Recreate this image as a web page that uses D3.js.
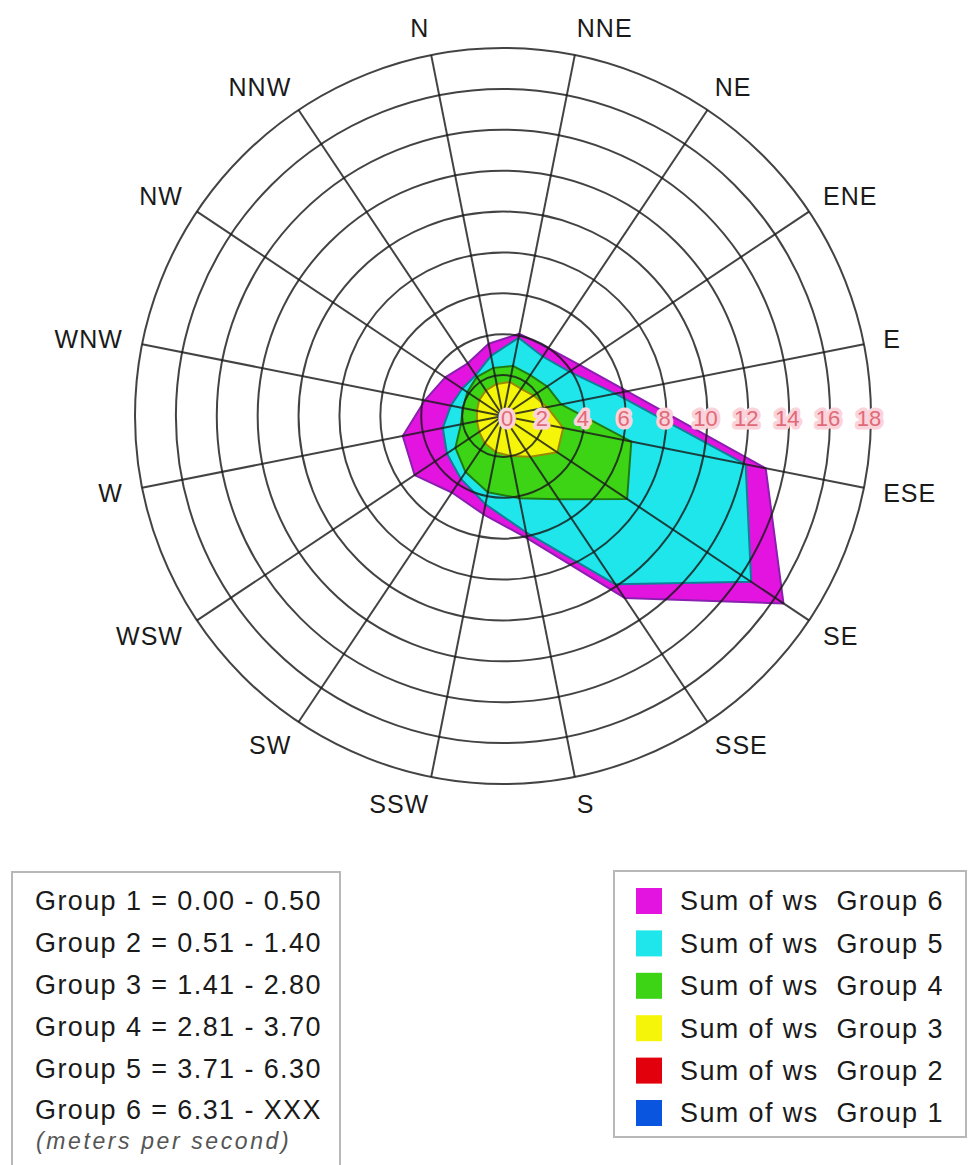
<!DOCTYPE html>
<html>
<head>
<meta charset="utf-8">
<script src="https://cdn.jsdelivr.net/npm/d3@7"></script>
<style>
  html, body { margin: 0; padding: 0; background: #fff; }
  svg { display: block; }
  text { font-family: "Liberation Sans", Arial, sans-serif; }
</style>
</head>
<body>
<svg id="chart" width="969" height="1165"></svg>
<script>
// ---- data ----
const directions = ["N","NNE","NE","ENE","E","ESE","SE","SSE","S","SSW","SW","WSW","W","WNW","NW","NNW"];
const ringTicks = [0,2,4,6,8,10,12,14,16,18];
const group6 = [3.6, 4.1, 4.0, 4.5, 6.2, 13.1, 16.5, 10.7, 6.1, 4.9, 4.5, 5.2, 5.0, 3.9, 3.4, 3.1];
const group5 = [3.0, 3.9, 3.5, 3.9, 5.6, 12.1, 14.6, 9.9, 5.8, 4.4, 3.7, 3.3, 3.0, 2.6, 2.4, 2.4];
const group4 = [2.4, 2.5, 2.4, 2.6, 2.9, 6.4, 7.3, 4.9, 4.1, 3.8, 3.3, 2.8, 2.1, 2.0, 2.1, 2.3];
const group3 = [1.6, 1.7, 1.6, 1.8, 2.2, 3.0, 3.2, 2.4, 2.0, 1.8, 1.6, 1.4, 1.3, 1.3, 1.4, 1.5];
const group2 = [0, 0, 0, 0, 0, 0, 0, 0, 0, 0, 0, 0, 0, 0, 0, 0];
const group1 = [0, 0, 0, 0, 0, 0, 0, 0, 0, 0, 0, 0, 0, 0, 0, 0];
const seriesNames = ["Sum of ws  Group 6","Sum of ws  Group 5","Sum of ws  Group 4","Sum of ws  Group 3","Sum of ws  Group 2","Sum of ws  Group 1"];
const seriesColors = ["#e314e0","#1ee6ea","#3ed416","#f5f50a","#e3000d","#0a55e0"];
const seriesStrokes = ["#8a1fb0","#0e7f96","#1f7a12","#9a8a00","#8a0000","#002f8a"];
const rangeLabels = ["Group 1 = 0.00 - 0.50","Group 2 = 0.51 - 1.40","Group 3 = 1.41 - 2.80","Group 4 = 2.81 - 3.70","Group 5 = 3.71 - 6.30","Group 6 = 6.31 - XXX"];
const unitLabel = "(meters per second)";

const seriesValues = [group6, group5, group4, group3, group2, group1];

// ---- layout ----
const svg = d3.select("#chart");
const cx = 503, cy = 416, R = 368;
const n = directions.length;
const angle = d3.scaleLinear().domain([0, n]).range([-Math.PI / n, 2 * Math.PI - Math.PI / n]);
const rScale = d3.scaleLinear().domain([0, 18]).range([0, R]);

const g = svg.append("g").attr("transform", `translate(${cx},${cy})`);

// filled series (largest first)
const radial = d3.lineRadial()
  .angle((d, i) => angle(i))
  .radius(d => rScale(d))
  .curve(d3.curveLinearClosed);

g.selectAll("path.series")
  .data(seriesValues)
  .join("path")
  .attr("class", "series")
  .attr("d", d => radial(d))
  .attr("fill", (d, i) => seriesColors[i])
  .attr("stroke", (d, i) => seriesStrokes[i])
  .attr("stroke-width", 2)
  .attr("stroke-linejoin", "round");

// grid rings
g.selectAll("circle.ring")
  .data(ringTicks.filter(t => t > 0))
  .join("circle")
  .attr("class", "ring")
  .attr("r", d => rScale(d))
  .attr("fill", "none")
  .attr("stroke", "#1a1a1a")
  .attr("stroke-opacity", 0.82)
  .attr("stroke-width", 2);

// spokes
g.selectAll("line.spoke")
  .data(directions)
  .join("line")
  .attr("class", "spoke")
  .attr("x1", 0).attr("y1", 0)
  .attr("x2", (d, i) => Math.sin(angle(i)) * R)
  .attr("y2", (d, i) => -Math.cos(angle(i)) * R)
  .attr("stroke", "#1a1a1a")
  .attr("stroke-opacity", 0.82)
  .attr("stroke-width", 2);

// ring value labels along the horizontal axis
g.selectAll("text.tick")
  .data(ringTicks)
  .join("text")
  .attr("class", "tick")
  .attr("x", d => rScale(d) + (d === 0 ? 4 : -2))
  .attr("y", 2)
  .attr("dy", "0.35em")
  .attr("text-anchor", "middle")
  .attr("font-size", 22)
  .attr("fill", "#e06a78")
  .attr("stroke", "#fbd3da")
  .attr("stroke-width", 7)
  .attr("stroke-linejoin", "round")
  .attr("paint-order", "stroke")
  .text(d => d);

// direction labels
g.selectAll("text.dir")
  .data(directions)
  .join("text")
  .attr("class", "dir")
  .each(function(d, i) {
    const a = angle(i);
    const s = Math.sin(a), c = Math.cos(a);
    const rr = R + 10;
    const extra = 10 * Math.pow(Math.abs(s), 3) * Math.sign(s);
    d3.select(this)
      .attr("x", s * rr + extra)
      .attr("y", -c * rr - c * 18)
      .attr("text-anchor", s >= 0 ? "start" : "end");
  })
  .attr("dy", "0.36em")
  .attr("font-size", 25)
  .attr("letter-spacing", 1)
  .attr("fill", "#1a1a1a")
  .text(d => d);

// ---- left legend (ranges) ----
const legL = svg.append("g");
legL.append("rect")
  .attr("x", 12).attr("y", 872).attr("width", 328).attr("height", 300)
  .attr("fill", "#fff").attr("stroke", "#b8b8b8").attr("stroke-width", 2);
const leftY = d3.scaleLinear().domain([0, 5]).range([901, 1110]);
legL.selectAll("text.range")
  .data(rangeLabels)
  .join("text")
  .attr("class", "range")
  .attr("x", 35)
  .attr("y", (d, i) => leftY(i))
  .attr("dy", "0.35em")
  .attr("font-size", 27)
  .attr("letter-spacing", 1.4)
  .attr("fill", "#1a1a1a")
  .text(d => d);
legL.append("text")
  .attr("x", 36)
  .attr("y", 1141)
  .attr("dy", "0.35em")
  .attr("font-size", 23)
  .attr("font-style", "italic")
  .attr("letter-spacing", 2.6)
  .attr("fill", "#555")
  .text(unitLabel);

// ---- right legend (series) ----
const legR = svg.append("g");
legR.append("rect")
  .attr("x", 614).attr("y", 871).attr("width", 352).attr("height", 266)
  .attr("fill", "#fff").attr("stroke", "#b8b8b8").attr("stroke-width", 2);
const rightY = d3.scaleLinear().domain([0, 5]).range([901, 1113]);
const items = legR.selectAll("g.item")
  .data(seriesNames)
  .join("g")
  .attr("class", "item")
  .attr("transform", (d, i) => `translate(0,${rightY(i)})`);
items.append("rect")
  .attr("x", 636).attr("y", -13).attr("width", 26).attr("height", 26)
  .attr("fill", (d, i) => seriesColors[i]);
items.append("text")
  .attr("x", 680).attr("y", 0).attr("dy", "0.35em")
  .attr("font-size", 27)
  .attr("letter-spacing", 1.4)
  .attr("fill", "#1a1a1a")
  .attr("xml:space", "preserve")
  .style("white-space", "pre")
  .text(d => d);
</script>
</body>
</html>
